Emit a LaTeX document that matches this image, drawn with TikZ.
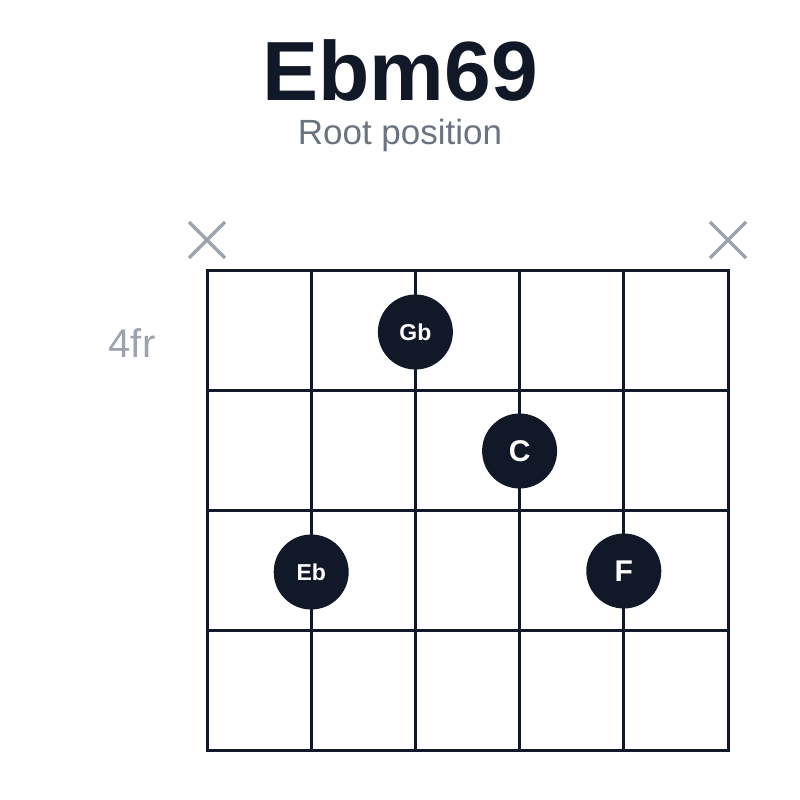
\documentclass[tikz,border=0pt]{standalone}
\usepackage{fontspec}
\setmainfont{Liberation Sans}
\definecolor{ink}{HTML}{111827}
\definecolor{subgray}{HTML}{6B7280}
\definecolor{mutegray}{HTML}{9CA3AF}
\tikzset{
  fretline/.style={ink, line width=3pt},
  chorddot/.style={circle, fill=ink, minimum size=75pt, inner sep=0pt, text=white, font=\fontsize{23}{23}\selectfont\bfseries},
  mutemark/.style={mutegray, line width=3.5pt},
}
\begin{document}
\begin{tikzpicture}[x=1pt, y=-1pt]
\useasboundingbox (0,0) rectangle (800,800);
\node[font=\fontsize{84}{84}\selectfont\bfseries, text=ink] (title) at (400,70) {Ebm69};
\node[font=\fontsize{35}{35}\selectfont, text=subgray] (subtitle) at (400,135) {Root position};
\node[font=\fontsize{40}{40}\selectfont, text=mutegray] (fretnum) at (132,343) {4fr};
% strings and frets
\foreach \s in {0,...,5}
  \draw[fretline] (207+104.2*\s,270) -- (207+104.2*\s,750);
\foreach \f in {0,...,4}
  \draw[fretline] (205.5,270+120*\f) -- (729.5,270+120*\f);
% muted strings
\foreach \s in {0,5}
  \draw[mutemark] (207+104.2*\s-18,222) -- ++(36,36) (207+104.2*\s+18,222) -- ++(-36,36);
% fingered notes
\node[chorddot] (gb) at (415.4,332) {Gb};
\node[chorddot, font=\fontsize{30}{30}\selectfont\bfseries] (c) at (519.6,451) {C};
\node[chorddot] (eb) at (311.2,572) {Eb};
\node[chorddot, font=\fontsize{30}{30}\selectfont\bfseries] (f) at (623.8,571) {F};
\end{tikzpicture}
\end{document}
